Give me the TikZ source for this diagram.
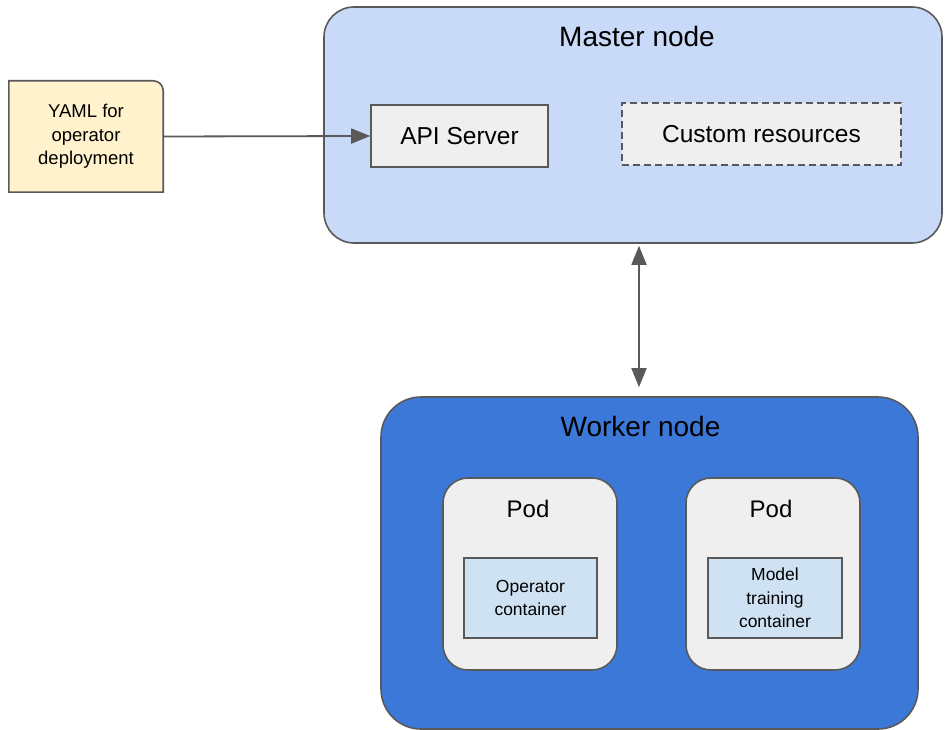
\documentclass[tikz,border=0pt]{standalone}
\usepackage{fontspec}
\setmainfont{Liberation Sans}
\usetikzlibrary{arrows.meta,positioning}
\pgfdeclarelayer{background}
\pgfsetlayers{background,main}
\definecolor{edge}{HTML}{595959}
\definecolor{masterfill}{HTML}{C9DAF8}
\definecolor{workerfill}{HTML}{3C78D8}
\definecolor{yamlfill}{HTML}{FFF2CC}
\definecolor{boxfill}{HTML}{EFEFEF}
\definecolor{contfill}{HTML}{CFE2F3}
\begin{document}
\begin{tikzpicture}[x=1pt,y=-1pt,
    >={Triangle[length=19pt,width=15pt]},
    box/.style={draw=edge, line width=1.6pt, inner sep=0pt, align=center},
    bignode/.style={box, rounded corners=#1},
    title/.style={anchor=base, font=\fontsize{28}{34}\selectfont},
    podtitle/.style={anchor=base, font=\fontsize{24}{29}\selectfont},
    conn/.style={draw=edge, line width=1.8pt}]
    \useasboundingbox (0,0) rectangle (945,730);
    \clip (0,0) rectangle (945,730);
    % master node with its two boxes
    \node[bignode=30pt, fill=masterfill, minimum width=618pt, minimum height=236pt] (master) at (633,125) {};
    \node[title] (mastertitle) at ([xshift=4pt,yshift=-40pt]master.north) {Master node};
    \node[box, fill=boxfill, minimum width=177pt, minimum height=62pt, font=\fontsize{24.5}{29}\selectfont] (api) at (459.5,136) {API Server};
    \node[box, fill=boxfill, dash pattern=on 7pt off 4pt, minimum width=279pt, minimum height=62pt, font=\fontsize{24.5}{29}\selectfont] (crd) at (761.5,134) {Custom resources};
    % yaml file, only one corner rounded
    \node[inner sep=0pt, align=center, minimum width=154pt, minimum height=111pt, font=\fontsize{18.5}{23.5}\selectfont] (yaml) at (86,136.5) {YAML for\\operator\\deployment};
    \begin{pgfonlayer}{background}
        \filldraw[draw=edge, fill=yamlfill, line width=1.6pt] (yaml.south west) -- (yaml.north west) [rounded corners=10pt] -- (yaml.north east) [sharp corners] -- (yaml.south east) -- cycle;
    \end{pgfonlayer}
    % worker node with two pods
    \node[bignode=40pt, fill=workerfill, minimum width=537pt, minimum height=332pt] (worker) at (649.5,563) {};
    \node[title] (workertitle) at ([xshift=-9pt,yshift=-40pt]worker.north) {Worker node};
    \node[bignode=25pt, fill=boxfill, minimum width=174pt, minimum height=192pt] (pod1) at (530,574) {};
    \node[bignode=25pt, fill=boxfill, minimum width=174pt, minimum height=192pt] (pod2) at (773,574) {};
    \node[podtitle] (pod1title) at ([xshift=-2pt,yshift=-40pt]pod1.north) {Pod};
    \node[podtitle] (pod2title) at ([xshift=-2pt,yshift=-40pt]pod2.north) {Pod};
    \node[box, fill=contfill, minimum width=133pt, minimum height=80pt, font=\fontsize{17.5}{23}\selectfont] (opcont) at (530.5,598) {Operator\\container};
    \node[box, fill=contfill, minimum width=134pt, minimum height=80pt, font=\fontsize{17.5}{23.5}\selectfont] (modelcont) at (775,598) {Model\\training\\container};
    % connectors
    \draw[conn, ->] (yaml.east) -- (api.west);
    \coordinate (link) at (639,0);
    \draw[conn, <->, shorten <=2pt, shorten >=9pt] (master.south -| link) -- (worker.north -| link);
\end{tikzpicture}
\end{document}
